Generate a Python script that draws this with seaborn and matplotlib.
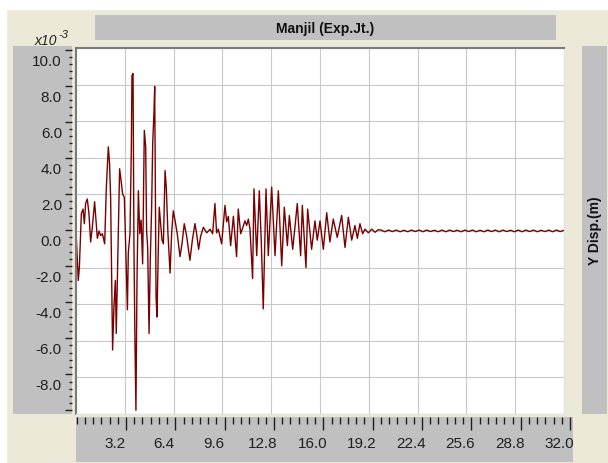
import numpy as np
import matplotlib
matplotlib.use("Agg")
import matplotlib.pyplot as plt
import matplotlib.transforms as mtransforms
from matplotlib.patches import Rectangle
from matplotlib.ticker import MultipleLocator, FixedLocator
import seaborn as sns

# displacement record (x10^-3 m), time in seconds
time_main = [0.0, 0.15, 0.22, 0.35, 0.46, 0.55, 0.63, 0.74, 0.85, 0.96,
             1.07, 1.22, 1.31, 1.40, 1.51, 1.62, 1.73, 1.88, 1.99, 2.12,
             2.20, 2.27, 2.34, 2.40, 2.49, 2.58, 2.64, 2.73, 2.86, 2.95,
             3.06, 3.17, 3.26, 3.37, 3.43, 3.54, 3.63, 3.67, 3.74, 3.80,
             3.87, 3.93, 4.00, 4.09, 4.18, 4.27, 4.37, 4.48, 4.57, 4.63,
             4.70, 4.79, 4.87, 4.96, 5.03, 5.11, 5.16, 5.20, 5.25, 5.31,
             5.40, 5.46, 5.55, 5.64, 5.73, 5.84, 5.92, 6.03, 6.17, 6.27,
             6.38, 6.49, 6.64, 6.82, 6.95, 7.10, 7.26, 7.47, 7.63, 7.80,
             7.91, 8.04, 8.17, 8.35, 8.57, 8.79, 8.96, 9.11, 9.22, 9.33,
             9.55, 9.77, 9.88, 9.99, 10.14, 10.32, 10.53, 10.64, 10.80, 11.08,
             11.19, 11.30, 11.41, 11.58, 11.67, 11.85, 12.02, 12.15, 12.28, 12.46,
             12.61, 12.83, 13.05, 13.27, 13.49, 13.66, 13.86, 13.99, 14.21, 14.51,
             14.73, 14.84, 15.08, 15.19, 15.45, 15.67, 15.82, 16.00, 16.22, 16.44,
             16.65, 16.87, 17.13, 17.42, 17.64, 17.86, 18.08, 18.29, 18.45, 18.62,
             18.80, 18.95, 19.17, 19.39, 19.61, 19.82]
disp_main = [0.0, -2.7, -2.0, 0.95, 1.2, 0.4, 1.5, 1.75, 0.95, -0.6,
             0.2, 1.6, 0.6, -0.4, 0.0, -0.25, -0.15, -0.7, 2.4, 4.6,
             3.7, 1.85, -2.7, -6.5, -4.1, -2.7, -5.6, -1.8, 3.4, 2.8,
             2.0, 1.85, -0.9, -4.3, -1.2, -0.15, 4.6, 8.5, 8.6, -0.9,
             -6.3, -9.8, -2.7, 2.2, -0.15, 0.6, -1.8, 5.5, 4.6, 0.0,
             -0.9, -5.6, -1.6, 1.3, 4.8, 6.4, 7.9, 2.4, -3.6, -4.7,
             -0.9, 1.3, 0.4, -0.5, -0.7, 3.3, 2.4, -0.15, -2.3, -0.15,
             1.1, 0.6, -0.15, -1.4, -0.7, 0.4, -0.3, -1.6, -0.5, 0.4,
             -0.15, -1.0, -0.3, 0.2, -0.1, 0.1, -0.15, 1.5, -0.1, 0.1,
             -0.7, 1.4, 0.5, 0.8, -0.8, 0.8, -1.4, 1.2, -0.15, 0.55,
             0.3, 0.65, 0.1, -2.6, 2.3, -1.35, 2.2, -0.6, -4.25, 2.3,
             -1.35, 2.4, -1.35, 2.2, -1.9, 1.3, -0.8, 0.85, -1.0, 1.5,
             -1.35, 1.4, -2.0, 1.2, -1.0, 0.55, -0.5, 0.55, -1.0, 1.0,
             -0.6, 0.65, -0.35, 0.85, -0.9, 0.75, -0.5, 0.3, -0.4, 0.4,
             -0.15, 0.1, -0.1, 0.1, -0.07, 0.07]

# small residual ripple, sampled every 0.25 s from 20 s to 32 s
tail_start = 20.0
tail_step = 0.25
disp_tail = [0.05, -0.04, 0.05, -0.03, 0.05, -0.04, 0.04, -0.04, 0.05, -0.03,
             0.05, -0.04, 0.05, -0.03, 0.04, -0.04, 0.05, -0.04, 0.05, -0.03,
             0.04, -0.04, 0.05, -0.03, 0.05, -0.04, 0.04, -0.04, 0.05, -0.03,
             0.05, -0.04, 0.05, -0.03, 0.04, -0.04, 0.05, -0.04, 0.05, -0.03,
             0.05, -0.04, 0.04, -0.03, 0.05, -0.04, 0.05, -0.03, 0.04]
time_tail = list(tail_start + tail_step * np.arange(len(disp_tail)))

y_ticks = [10.0, 8.0, 6.0, 4.0, 2.0, 0.0, -2.0, -4.0, -6.0, -8.0]
x_ticks = [3.2, 6.4, 9.6, 12.8, 16.0, 19.2, 22.4, 25.6, 28.8, 32.0]
x_labels = ["3.2", "6.4", "9.6", "12.8", "16.0", "19.2", "22.4", "25.6", "28.8", "32.0"]

title = "Manjil (Exp.Jt.)"
ylabel = "Y Disp.(m)"

time = np.array(time_main + time_tail)
disp = np.array(disp_main + disp_tail)

sns.set_style("white")
plt.rcParams["font.family"] = ["Liberation Sans", "DejaVu Sans"]
NARROW = ["Liberation Sans Narrow", "Liberation Sans"]

W, H = 608, 464
BEIGE = "#ECE9D8"
GREY = "#C0C0C0"
LINE = "#7A0000"


def box(x0, y0, x1, y1):
    # pixel box (top-left origin) -> figure fraction rect
    return [x0 / W, 1 - y1 / H, (x1 - x0) / W, (y1 - y0) / H]


fig = plt.figure(figsize=(W / 100, H / 100), dpi=100, facecolor=BEIGE)
fig.patches.append(Rectangle((0, 1 - 10 / H), 1, 10 / H, transform=fig.transFigure,
                             color="white", zorder=0))
fig.patches.append(Rectangle((0, 0), 6 / W, 1, transform=fig.transFigure,
                             color="white", zorder=0))

# main plot area
ax = fig.add_axes(box(76, 49, 564, 415))
ax.set_facecolor("white")
sns.lineplot(x=time, y=disp, ax=ax, color=LINE, linewidth=1.0,
             estimator=None, sort=False, legend=False)
ax.set_xlim(0, 32)
ax.set_ylim(-10, 10)
ax.xaxis.set_major_locator(FixedLocator(x_ticks))
ax.yaxis.set_major_locator(MultipleLocator(2))
ax.tick_params(length=0, labelbottom=False, labelleft=False)
ax.grid(True, color="#C8C8C8", linewidth=0.8)
ax.set_axisbelow(True)
ax.set_xlabel("")
ax.set_ylabel("")
for side in ["top", "left"]:
    ax.spines[side].set_color("#7A7A7A")
    ax.spines[side].set_linewidth(1.5)
for side in ["right", "bottom"]:
    ax.spines[side].set_color("#E4E4E4")
    ax.spines[side].set_linewidth(1.0)

# left scale bar
lax = fig.add_axes(box(13, 47, 72, 415))
lax.set_facecolor(GREY)
lax.set_ylim(-10 - 2 * 0.1, 10 + 2 * 0.1)
lax.set_xticks([])
lax.yaxis.tick_right()
lax.yaxis.set_major_locator(MultipleLocator(2))
lax.yaxis.set_minor_locator(MultipleLocator(0.4))
lax.tick_params(axis="y", which="major", direction="in", length=5, width=1,
                color="#202020", labelright=False)
lax.tick_params(axis="y", which="minor", direction="in", length=2, width=1,
                color="#202020")
for s in lax.spines.values():
    s.set_visible(False)
ytrans = mtransforms.offset_copy(
    mtransforms.blended_transform_factory(lax.transAxes, lax.transData),
    fig=fig, x=0, y=-11, units="dots")
for v in y_ticks:
    lax.text(0.83, v, f"{v:.1f}", transform=ytrans, ha="right", va="center",
             fontsize=11, family=NARROW, color="#202020")

# bottom scale bar
bax = fig.add_axes(box(76, 418, 573, 463))
bax.set_facecolor(GREY)
bax.set_xlim(-0.04, 32.19)
bax.set_ylim(0, 1.1)
bax.set_yticks([])
bax.xaxis.tick_top()
bax.xaxis.set_major_locator(FixedLocator(x_ticks))
bax.xaxis.set_minor_locator(MultipleLocator(3.2 / 6))
bax.tick_params(axis="x", which="major", direction="in", length=9, width=1,
                color="#202020", labeltop=False)
bax.tick_params(axis="x", which="minor", direction="in", length=5, width=1,
                color="#202020")
for s in bax.spines.values():
    s.set_visible(False)
xtrans = mtransforms.offset_copy(
    mtransforms.blended_transform_factory(bax.transData, bax.transAxes),
    fig=fig, x=-11, y=0, units="dots")
for v, lab in zip(x_ticks, x_labels):
    bax.text(v, 0.42, lab, transform=xtrans, ha="center", va="center",
             fontsize=11, family=NARROW, color="#202020")

# title bar
tax = fig.add_axes(box(95, 16, 556, 41))
tax.set_facecolor(GREY)
tax.set_xticks([])
tax.set_yticks([])
for s in tax.spines.values():
    s.set_visible(False)
tax.text(0.5, 0.5, title, ha="center", va="center", fontsize=10,
         fontweight="bold", color="#101010", transform=tax.transAxes)

# right label bar
rax = fig.add_axes(box(582, 47, 607, 415))
rax.set_facecolor(GREY)
rax.set_xticks([])
rax.set_yticks([])
for s in rax.spines.values():
    s.set_visible(False)
rax.text(0.5, 0.5, ylabel, ha="center", va="center", rotation=90, fontsize=10,
         fontweight="bold", color="#101010", transform=rax.transAxes)

# exponent note above the left bar
fig.text(35 / W, 1 - 45 / H, "x10", fontsize=10, style="italic", family=NARROW,
         ha="left", va="baseline", color="#202020")
fig.text(58 / W, 1 - 38 / H, "-3", fontsize=8, style="italic", family=NARROW,
         ha="left", va="baseline", color="#202020")

fig.savefig("out.png", dpi=100, facecolor=BEIGE)
